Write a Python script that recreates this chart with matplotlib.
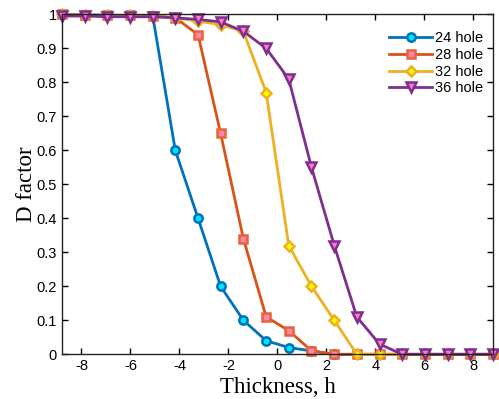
import matplotlib
matplotlib.use("Agg")
import matplotlib.pyplot as plt

plt.rcParams["axes.unicode_minus"] = False

thickness = [-8.8, -7.87, -6.95, -6.02, -5.09, -4.17, -3.24, -2.32, -1.39, -0.46,
             0.46, 1.39, 2.32, 3.24, 4.17, 5.09, 6.02, 6.95, 7.87, 8.8]
d24 = [1.0, 0.998, 0.997, 0.997, 0.995, 0.60, 0.40, 0.20, 0.10, 0.04,
       0.02, 0.01, 0.0, 0.0, 0.0, 0.0, 0.0, 0.0, 0.0, 0.0]
d28 = [1.0, 0.998, 0.997, 0.997, 0.995, 0.99, 0.94, 0.65, 0.34, 0.11,
       0.07, 0.01, 0.0, 0.0, 0.0, 0.0, 0.0, 0.0, 0.0, 0.0]
d32 = [1.0, 0.998, 0.997, 0.997, 0.995, 0.99, 0.98, 0.97, 0.95, 0.77,
       0.32, 0.20, 0.10, 0.0, 0.0, 0.0, 0.0, 0.0, 0.0, 0.0]
d36 = [0.995, 0.995, 0.993, 0.993, 0.993, 0.99, 0.985, 0.978, 0.95, 0.90,
       0.81, 0.55, 0.32, 0.11, 0.03, 0.0, 0.0, 0.0, 0.0, 0.0]
labels = ["24 hole", "28 hole", "32 hole", "36 hole"]
xticks = [-8, -6, -4, -2, 0, 2, 4, 6, 8]
yticks = [0, 0.1, 0.2, 0.3, 0.4, 0.5, 0.6, 0.7, 0.8, 0.9, 1]
ytick_labels = ["0", "0.1", "0.2", "0.3", "0.4", "0.5", "0.6", "0.7", "0.8", "0.9", "1"]

styles = [
    dict(color="#0072BD", marker="o", mfc="#00E5FF", mec="#0072BD", ms=6),
    dict(color="#D95319", marker="s", mfc="#FF88AA", mec="#E8623A", ms=6),
    dict(color="#EDB120", marker="D", mfc="#FFFF00", mec="#EDB120", ms=5.5),
    dict(color="#7E2F8E", marker="v", mfc="#FF77CC", mec="#7E2F8E", ms=7.5),
]

fig = plt.figure(figsize=(4.99, 3.99), dpi=100)
ax = fig.add_axes([0.124, 0.112, 0.864, 0.852])

for ys, lab, st in zip([d24, d28, d32, d36], labels, styles):
    ax.plot(thickness, ys, label=lab, linewidth=2, markeredgewidth=1.8,
            clip_on=False, **st)

ax.set_xlim(-8.8, 8.8)
ax.set_ylim(0, 1)
ax.set_xticks(xticks)
ax.set_yticks(yticks)
ax.set_yticklabels(ytick_labels)
ax.tick_params(direction="in", top=True, right=True, length=4, width=1,
               labelsize=10.5)
for lbl in ax.get_xticklabels() + ax.get_yticklabels():
    lbl.set_family("Liberation Sans")
for s in ax.spines.values():
    s.set_linewidth(1)
    s.set_color("#222222")

ax.set_xlabel("Thickness, h", family="Liberation Serif", fontsize=16.5, labelpad=3)
ax.set_ylabel("D factor", family="Liberation Serif", fontsize=16.5, labelpad=0)

leg = ax.legend(loc="upper right", frameon=False, prop={"family": "Liberation Sans", "size": 10.5},
                handlelength=2.9, handletextpad=0.2, labelspacing=0.18,
                bbox_to_anchor=(1.0, 0.98), borderaxespad=0.3)

fig.savefig("out.png", dpi=100)
